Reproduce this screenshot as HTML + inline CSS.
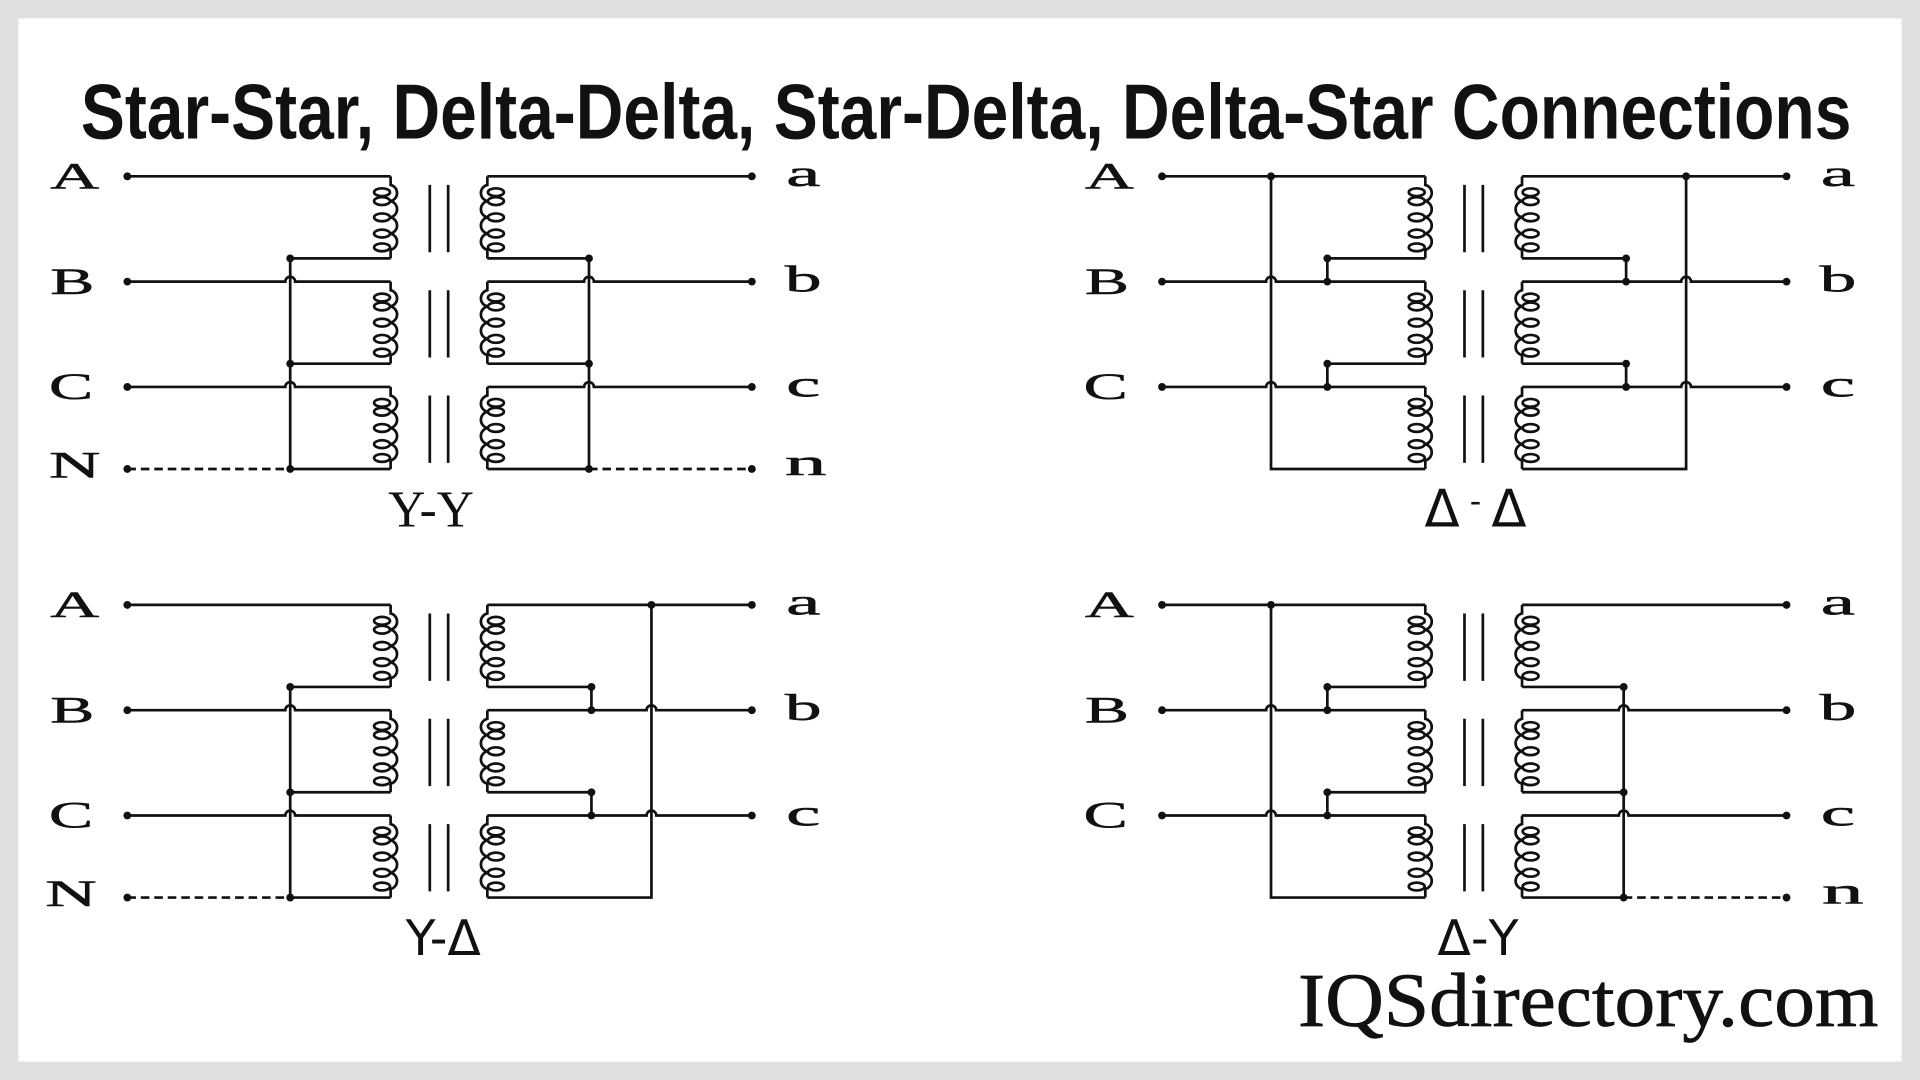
<!DOCTYPE html>
<html><head><meta charset="utf-8"><style>
html,body{margin:0;padding:0;background:#e0e0e0;}
svg{display:block;}
</style></head><body>
<svg width="1920" height="1080" viewBox="0 0 1568 882" xmlns="http://www.w3.org/2000/svg">
<rect x="0" y="0" width="1568" height="882" fill="#e0e0e0"/>
<rect x="15" y="15" width="1538" height="852" fill="#fff"/>
<defs>
<g id="ph" fill="none" stroke="#111" stroke-width="2.2">
  <path d="M319,0 V7 a6.8,6.8 0 0 1 0,13.25 a6.8,6.8 0 0 1 0,13.25 a6.8,6.8 0 0 1 0,13.25 a6.8,6.8 0 0 1 0,13.25 V67"/>
  <ellipse cx="312" cy="13" rx="6.5" ry="3.2"/>
  <ellipse cx="312" cy="20.25" rx="6.5" ry="3.2"/>
  <ellipse cx="312" cy="33.5" rx="6.5" ry="3.2"/>
  <ellipse cx="312" cy="46.75" rx="6.5" ry="3.2"/>
  <ellipse cx="312" cy="58" rx="6.5" ry="3.2"/>
  <path d="M351,7 V62 M366,7 V62"/>
  <path d="M398,0 V7 a6.8,6.8 0 0 0 0,13.25 a6.8,6.8 0 0 0 0,13.25 a6.8,6.8 0 0 0 0,13.25 a6.8,6.8 0 0 0 0,13.25 V67"/>
  <ellipse cx="405" cy="13" rx="6.5" ry="3.2"/>
  <ellipse cx="405" cy="20.25" rx="6.5" ry="3.2"/>
  <ellipse cx="405" cy="33.5" rx="6.5" ry="3.2"/>
  <ellipse cx="405" cy="46.75" rx="6.5" ry="3.2"/>
  <ellipse cx="405" cy="58" rx="6.5" ry="3.2"/>
</g>
<g id="coils">
  <use href="#ph"/>
  <use href="#ph" transform="translate(0,86)"/>
  <use href="#ph" transform="translate(0,172)"/>
</g>
<g id="yp" fill="none" stroke="#111" stroke-width="2.2">
  <path d="M104,0 H319 M104,86 H233 a4,4 0 0 1 8,0 H319 M104,172 H233 a4,4 0 0 1 8,0 H319"/>
  <path d="M319,67 H237 M319,153 H237 M319,239 H237 M237,67 V239"/>
  <path d="M104,239 H237" stroke-dasharray="7 4"/>
  <g fill="#111" stroke="none">
    <circle cx="104" cy="0" r="3.2"/><circle cx="104" cy="86" r="3.2"/><circle cx="104" cy="172" r="3.2"/><circle cx="104" cy="239" r="3.2"/>
    <circle cx="237" cy="67" r="3.2"/><circle cx="237" cy="153" r="3.2"/><circle cx="237" cy="239" r="3.2"/>
  </g>
</g>
<g id="ys" fill="none" stroke="#111" stroke-width="2.2">
  <path d="M398,0 H614 M398,86 H477 a4,4 0 0 1 8,0 H614 M398,172 H477 a4,4 0 0 1 8,0 H614"/>
  <path d="M398,67 H481 M398,153 H481 M398,239 H481 M481,67 V239"/>
  <path d="M481,239 H614" stroke-dasharray="7 4"/>
  <g fill="#111" stroke="none">
    <circle cx="614" cy="0" r="3.2"/><circle cx="614" cy="86" r="3.2"/><circle cx="614" cy="172" r="3.2"/><circle cx="614" cy="239" r="3.2"/>
    <circle cx="481" cy="67" r="3.2"/><circle cx="481" cy="153" r="3.2"/><circle cx="481" cy="239" r="3.2"/>
  </g>
</g>
<g id="dp" fill="none" stroke="#111" stroke-width="2.2">
  <path d="M104,0 H319 M104,86 H189 a4,4 0 0 1 8,0 H319 M104,172 H189 a4,4 0 0 1 8,0 H319"/>
  <path d="M193,0 V239 H319 M319,67 H239 V86 M319,153 H239 V172"/>
  <g fill="#111" stroke="none">
    <circle cx="104" cy="0" r="3.2"/><circle cx="104" cy="86" r="3.2"/><circle cx="104" cy="172" r="3.2"/>
    <circle cx="193" cy="0" r="3.2"/>
    <circle cx="239" cy="67" r="3.2"/><circle cx="239" cy="86" r="3.2"/><circle cx="239" cy="153" r="3.2"/><circle cx="239" cy="172" r="3.2"/>
  </g>
</g>
<g id="ds" fill="none" stroke="#111" stroke-width="2.2">
  <path d="M398,0 H614 M398,86 H528 a4,4 0 0 1 8,0 H614 M398,172 H528 a4,4 0 0 1 8,0 H614"/>
  <path d="M532,0 V239 H398 M398,67 H483 V86 M398,153 H483 V172"/>
  <g fill="#111" stroke="none">
    <circle cx="614" cy="0" r="3.2"/><circle cx="614" cy="86" r="3.2"/><circle cx="614" cy="172" r="3.2"/>
    <circle cx="532" cy="0" r="3.2"/>
    <circle cx="483" cy="67" r="3.2"/><circle cx="483" cy="86" r="3.2"/><circle cx="483" cy="153" r="3.2"/><circle cx="483" cy="172" r="3.2"/>
  </g>
</g>
<g id="lp" font-family="Liberation Serif, serif" font-size="30" fill="#111" stroke="#111" stroke-width="0.4" text-anchor="middle">
  <text x="61" y="10" textLength="40" lengthAdjust="spacingAndGlyphs">A</text><text x="59" y="96" textLength="36" lengthAdjust="spacingAndGlyphs">B</text><text x="58" y="182" textLength="36" lengthAdjust="spacingAndGlyphs">C</text>
</g>
<g id="ls" font-family="Liberation Serif, serif" font-size="30" fill="#111" stroke="#111" stroke-width="0.4" text-anchor="middle">
  <text x="656" y="8" textLength="28" lengthAdjust="spacingAndGlyphs">a</text><text x="656" y="94" textLength="30" lengthAdjust="spacingAndGlyphs">b</text><text x="656" y="180" textLength="28" lengthAdjust="spacingAndGlyphs">c</text>
</g>
</defs>

<text x="789" y="113" font-family="Liberation Sans, sans-serif" font-weight="bold" font-size="64" fill="#111" text-anchor="middle" textLength="1446" lengthAdjust="spacingAndGlyphs">Star-Star, Delta-Delta, Star-Delta, Delta-Star Connections</text>

<!-- Y-Y -->
<g transform="translate(0,144)">
  <use href="#coils"/><use href="#yp"/><use href="#ys"/><use href="#lp"/><use href="#ls"/>
  <text x="61" y="246" font-family="Liberation Serif, serif" font-size="30" fill="#111" stroke="#111" stroke-width="0.4" text-anchor="middle" textLength="42" lengthAdjust="spacingAndGlyphs">N</text>
  <text x="658" y="244" font-family="Liberation Serif, serif" font-size="30" fill="#111" stroke="#111" stroke-width="0.4" text-anchor="middle" textLength="34" lengthAdjust="spacingAndGlyphs">n</text>
  <text x="352" y="286" font-family="Liberation Serif, serif" font-size="42" fill="#111" text-anchor="middle">Y-Y</text>
</g>
<!-- D-D -->
<g transform="translate(845,144)">
  <use href="#coils"/><use href="#dp"/><use href="#ds"/><use href="#lp"/><use href="#ls"/>
  <text x="360" y="286" font-family="DejaVu Sans, sans-serif" font-size="42" fill="#111" text-anchor="middle">Δ<tspan font-size="26" dy="-12"> - </tspan><tspan dy="12">Δ</tspan></text>
</g>
<!-- Y-D -->
<g transform="translate(0,494)">
  <use href="#coils"/><use href="#yp"/><use href="#ds"/><use href="#lp"/><use href="#ls"/>
  <text x="58" y="246" font-family="Liberation Serif, serif" font-size="30" fill="#111" stroke="#111" stroke-width="0.4" text-anchor="middle" textLength="42" lengthAdjust="spacingAndGlyphs">N</text>
  <text x="362" y="286" font-family="DejaVu Sans, sans-serif" font-size="40" fill="#111" text-anchor="middle">Y-Δ</text>
</g>
<!-- D-Y -->
<g transform="translate(845,494)">
  <use href="#coils"/><use href="#dp"/><use href="#ys"/><use href="#lp"/><use href="#ls"/>
  <text x="660" y="244" font-family="Liberation Serif, serif" font-size="30" fill="#111" stroke="#111" stroke-width="0.4" text-anchor="middle" textLength="34" lengthAdjust="spacingAndGlyphs">n</text>
  <text x="362" y="286" font-family="DejaVu Sans, sans-serif" font-size="40" fill="#111" text-anchor="middle">Δ-Y</text>
</g>

<text x="1060" y="838" font-family="Liberation Serif, serif" font-size="62" fill="#111" stroke="#111" stroke-width="0.6" textLength="474" lengthAdjust="spacingAndGlyphs">IQSdirectory.com</text>
</svg>
</body></html>
